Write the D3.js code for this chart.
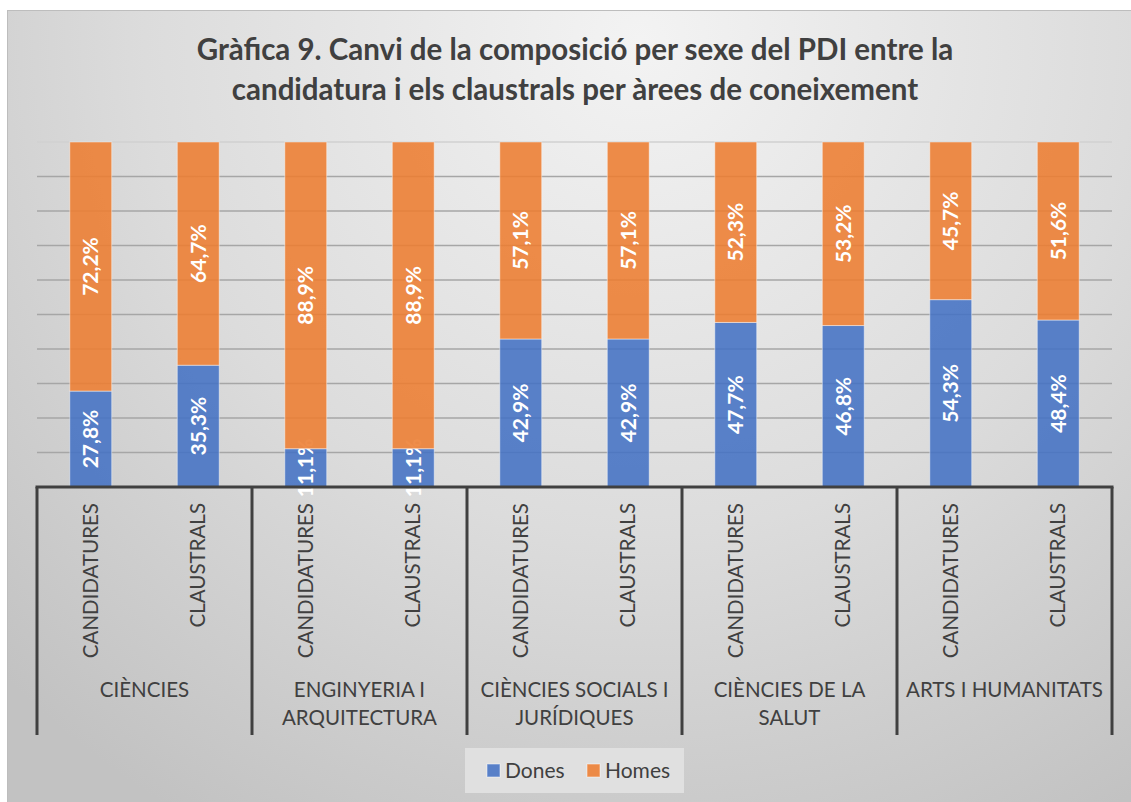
<!DOCTYPE html>
<html>
<head>
<meta charset="utf-8">
<script src="https://cdn.jsdelivr.net/npm/d3@7"></script>
<style>
  body { margin: 0; background: #fff; }
  svg { display: block; }
  text { font-family: Lato, 'Open Sans', sans-serif; }
</style>
</head>
<body>
<svg></svg>
<script>
const width = 1131
const height = 802

// Data
const areas = ['CIÈNCIES', 'ENGINYERIA I|ARQUITECTURA', 'CIÈNCIES SOCIALS I|JURÍDIQUES', 'CIÈNCIES DE LA|SALUT', 'ARTS I HUMANITATS']
const groups = ['CANDIDATURES', 'CLAUSTRALS']
const dones = [27.8, 35.3, 11.1, 11.1, 42.9, 42.9, 47.7, 46.8, 54.3, 48.4]
const homes = [72.2, 64.7, 88.9, 88.9, 57.1, 57.1, 52.3, 53.2, 45.7, 51.6]
const series = ['Dones', 'Homes']
const yTicks = [0, 10, 20, 30, 40, 50, 60, 70, 80, 90, 100]

const colors = { Dones: '#4472c4', Homes: '#ed7d31' }
const textColor = '#404040'

const plot = { left: 37, right: 1112, top: 142, bottom: 487 }

const svg = d3.select('svg')
  .attr('width', width)
  .attr('height', height)

// Background gradient
const defs = svg.append('defs')
const grad = defs.append('radialGradient')
  .attr('id', 'bg')
  .attr('gradientUnits', 'userSpaceOnUse')
  .attr('cx', 640).attr('cy', 40).attr('r', 900)
grad.append('stop').attr('offset', '0%').attr('stop-color', '#f3f3f3')
grad.append('stop').attr('offset', '55%').attr('stop-color', '#dcdcdc')
grad.append('stop').attr('offset', '100%').attr('stop-color', '#c2c2c2')

svg.append('rect')
  .attr('x', 7.5).attr('y', 10.5)
  .attr('width', width).attr('height', height)
  .attr('fill', 'url(#bg)')
  .attr('stroke', '#bdbdbd')

// Title
const title = svg.append('text')
  .attr('text-anchor', 'middle')
  .attr('fill', textColor)
  .style('font-size', '29.5px')
  .style('font-weight', 'bold')
title.append('tspan').attr('x', 575).attr('y', 60)
  .text('Gràfica 9. Canvi de la composició per sexe del PDI entre la')
title.append('tspan').attr('x', 575).attr('y', 100)
  .text('candidatura i els claustrals per àrees de coneixement')

// Build rows from the arrays
const rows = []
areas.forEach((a, i) => {
  groups.forEach((g, j) => {
    const k = i * groups.length + j
    rows.push({ area: a, group: g, Dones: dones[k], Homes: homes[k] })
  })
})

const x0 = d3.scaleBand().domain(areas).range([plot.left, plot.right])
const x1 = d3.scaleBand().domain(groups).range([0, x0.bandwidth()])
  .paddingInner(0.61).paddingOuter(0.305)
const y = d3.scaleLinear().domain([0, 100]).range([plot.bottom, plot.top])

// Gridlines
svg.append('g')
  .selectAll('line')
  .data(yTicks.filter(d => d > 0))
  .enter().append('line')
  .attr('x1', plot.left).attr('x2', plot.right)
  .attr('y1', d => y(d)).attr('y2', d => y(d))
  .attr('stroke', (d) => d === 100 ? '#d0d0d0' : '#a6a6a6')
  .attr('stroke-width', 1.5)

// Stacked bars
const stack = d3.stack().keys(series)(rows)
const layers = svg.append('g')
  .selectAll('g')
  .data(stack)
  .enter().append('g')
  .attr('fill', d => colors[d.key])

layers.selectAll('rect')
  .data(d => d)
  .enter().append('rect')
  .attr('x', d => x0(d.data.area) + x1(d.data.group))
  .attr('y', d => y(d[1]))
  .attr('width', x1.bandwidth())
  .attr('height', d => y(d[0]) - y(d[1]))
  .attr('fill-opacity', 0.88)
  .attr('stroke', 'rgba(255,255,255,0.45)')
  .attr('stroke-width', 1)

// Data labels
layers.selectAll('text')
  .data(d => d)
  .enter().append('text')
  .attr('transform', d => {
    const cx = x0(d.data.area) + x1(d.data.group) + x1.bandwidth() / 2
    const cy = (y(d[0]) + y(d[1])) / 2
    return `translate(${cx}, ${cy}) rotate(-90)`
  })
  .attr('text-anchor', 'middle')
  .attr('dy', '0.36em')
  .attr('fill', '#fff')
  .style('font-size', '21px')
  .style('font-weight', 'bold')
  .text(d => d3.format('.1f')(d[1] - d[0]).replace('.', ',') + '%')

// Axis line and category separators
const axis = svg.append('g').attr('stroke', textColor).attr('stroke-width', 3)
axis.append('line')
  .attr('x1', plot.left - 1.5).attr('x2', plot.right + 1.5)
  .attr('y1', plot.bottom).attr('y2', plot.bottom)
axis.selectAll('.sep')
  .data(areas.map(a => x0(a)).concat([plot.right]))
  .enter().append('line')
  .attr('class', 'sep')
  .attr('x1', d => d).attr('x2', d => d)
  .attr('y1', plot.bottom).attr('y2', 735)

// Group labels (rotated)
svg.append('g')
  .selectAll('text')
  .data(rows)
  .enter().append('text')
  .attr('transform', d => {
    const cx = x0(d.area) + x1(d.group) + x1.bandwidth() / 2
    return `translate(${cx}, 503) rotate(-90)`
  })
  .attr('text-anchor', 'end')
  .attr('dy', '0.35em')
  .attr('fill', textColor)
  .style('font-size', '20.5px')
  .text(d => d.group)

// Area labels
const areaText = svg.append('g')
  .selectAll('text')
  .data(areas)
  .enter().append('text')
  .attr('text-anchor', 'middle')
  .attr('fill', textColor)
  .style('font-size', '20.5px')
areaText.selectAll('tspan')
  .data(d => d.split('|').map(t => ({ t, a: d })))
  .enter().append('tspan')
  .attr('x', d => x0(d.a) + x0.bandwidth() / 2)
  .attr('y', (d, i) => 697 + i * 28)
  .text(d => d.t)

// Legend
const legend = svg.append('g')
legend.append('rect')
  .attr('x', 465).attr('y', 748)
  .attr('width', 219).attr('height', 45)
  .attr('fill', '#e0e0e0')
const legendX = [487, 587]
series.forEach((s, i) => {
  legend.append('rect')
    .attr('x', legendX[i]).attr('y', 764)
    .attr('width', 13).attr('height', 13)
    .attr('fill', colors[s])
    .attr('fill-opacity', 0.88)
    .attr('stroke', 'rgba(255,255,255,0.5)')
  legend.append('text')
    .attr('x', legendX[i] + 18).attr('y', 778)
    .attr('fill', textColor)
    .style('font-size', '21px')
    .text(s)
})
</script>
</body>
</html>
